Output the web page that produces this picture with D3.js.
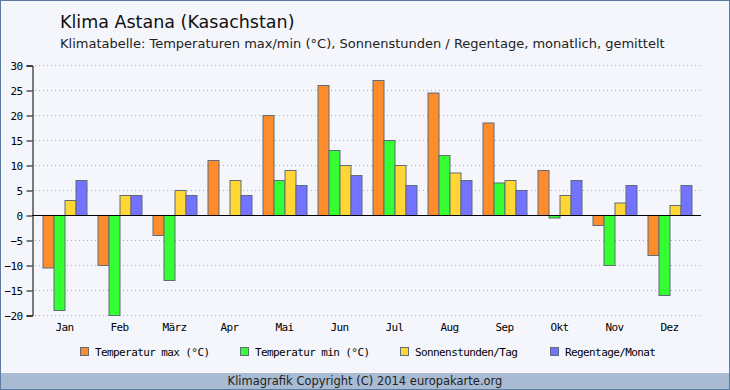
<!DOCTYPE html>
<html>
<head>
<meta charset="utf-8">
<script src="https://cdn.jsdelivr.net/npm/d3@7"></script>
<style>
  body { margin: 0; background: #fff; }
  svg { display: block; }
</style>
</head>
<body>
<svg width="730" height="390"></svg>
<script>
// Klimadaten Astana
const months = ['Jan', 'Feb', 'März', 'Apr', 'Mai', 'Jun', 'Jul', 'Aug', 'Sep', 'Okt', 'Nov', 'Dez'];
const tempMax = [-10.5, -10, -4, 11, 20, 26, 27, 24.5, 18.5, 9, -2, -8];
const tempMin = [-19, -20, -13, 0, 7, 13, 15, 12, 6.5, -0.5, -10, -16];
const sonne = [3, 4, 5, 7, 9, 10, 10, 8.5, 7, 4, 2.5, 2];
const regen = [7, 4, 4, 4, 6, 8, 6, 7, 5, 7, 6, 6];
const seriesNames = ['Temperatur max (°C)', 'Temperatur min (°C)', 'Sonnenstunden/Tag', 'Regentage/Monat'];
const colors = ['#ff8c2b', '#33ff33', '#ffd633', '#7373ff'];
const yTicks = [-20, -15, -10, -5, 0, 5, 10, 15, 20, 25, 30];

const allSeries = [tempMax, tempMin, sonne, regen];

const svg = d3.select('svg');

// Hintergrund + Rahmen
svg.append('rect').attr('x', 0.5).attr('y', 0.5).attr('width', 729).attr('height', 389)
  .attr('fill', '#f4f6fb').attr('stroke', '#5b7ba1');
svg.append('rect').attr('x', 1).attr('y', 373).attr('width', 728).attr('height', 16)
  .attr('fill', '#a9bbd3');

svg.append('text').attr('x', 60).attr('y', 28)
  .style('font-family', 'DejaVu Sans').style('font-size', '17.5px').attr('fill', '#111')
  .text('Klima Astana (Kasachstan)');
svg.append('text').attr('x', 60).attr('y', 48)
  .style('font-family', 'DejaVu Sans').style('font-size', '13px').attr('fill', '#222')
  .text('Klimatabelle: Temperaturen max/min (°C), Sonnenstunden / Regentage, monatlich, gemittelt');

svg.append('text').attr('x', 365).attr('y', 384.5).attr('text-anchor', 'middle')
  .style('font-family', 'DejaVu Sans').style('font-size', '11.5px').attr('fill', '#222')
  .text('Klimagrafik Copyright (C) 2014 europakarte.org');

const left = 32, right = 701;
const monoFont = sel => sel.style('font-family', 'DejaVu Sans Mono').style('font-size', '11px')
  .style('letter-spacing', '-0.6px').attr('fill', '#000');

var xScale = d3.scaleBand()
  .domain(months)
  .range([37, 697])
  .paddingInner(0.2)
  .paddingOuter(0.1);

var xInner = d3.scaleBand()
  .domain(d3.range(4))
  .range([0, xScale.bandwidth()]);

const yScale = d3.scaleLinear()
  .domain([-20, 30])
  .range([315, 65]);

// Gitterlinien (gepunktet)
svg.append('g').selectAll('line')
  .data(yTicks)
  .enter().append('line')
  .attr('x1', left + 3).attr('x2', right)
  .attr('y1', d => yScale(d) + 0.5).attr('y2', d => yScale(d) + 0.5)
  .attr('stroke', '#9fb2c9').attr('stroke-dasharray', '1,3');

// Y-Achse
const yAxis = d3.axisLeft(yScale).tickValues(yTicks).tickSize(6).tickPadding(4);
const yg = svg.append('g').attr('transform', 'translate(' + (left + 0.5) + ',0.5)').call(yAxis);
yg.select('.domain').attr('stroke', '#000');
yg.selectAll('.tick line').attr('stroke', '#000');
yg.selectAll('text').call(monoFont);

// Balken
const groups = svg.append('g').selectAll('g')
  .data(months)
  .enter().append('g')
  .attr('transform', d => 'translate(' + xScale(d) + ',0)');

groups.selectAll('rect')
  .data((m, i) => allSeries.map((s, k) => ({ k: k, value: s[i] })))
  .enter().append('rect')
  .attr('x', d => xInner(d.k) + 0.5)
  .attr('width', xInner.bandwidth())
  .attr('y', d => Math.min(yScale(d.value), yScale(0)) + 0.5)
  .attr('height', d => Math.abs(yScale(d.value) - yScale(0)))
  .attr('fill', d => colors[d.k])
  .attr('stroke', '#5e6b7a')
  .attr('stroke-width', d => d.value === 0 ? 0 : 1);

// Null-Linie
svg.append('line')
  .attr('x1', left).attr('x2', right)
  .attr('y1', yScale(0) + 0.5).attr('y2', yScale(0) + 0.5)
  .attr('stroke', '#000');

// Apr min = 0 -> dünner grüner strich
groups.filter((m, i) => tempMin[i] === 0).append('line')
  .attr('x1', xInner(1) + 1).attr('x2', xInner(1) + xInner.bandwidth())
  .attr('y1', yScale(0) + 0.5).attr('y2', yScale(0) + 0.5)
  .attr('stroke', colors[1]);

// Monatsnamen
svg.append('g').selectAll('text')
  .data(months)
  .enter().append('text')
  .attr('x', d => xScale(d) + xScale.bandwidth() / 2)
  .attr('y', 331)
  .attr('text-anchor', 'middle')
  .call(monoFont)
  .text(d => d);

// Legende
const legendX = [80, 240, 400, 550];
const legend = svg.append('g').selectAll('g')
  .data(seriesNames)
  .enter().append('g')
  .attr('transform', (d, i) => 'translate(' + legendX[i] + ',347)');
legend.append('rect').attr('x', 0.5).attr('y', 0.5).attr('width', 8).attr('height', 8)
  .attr('fill', (d, i) => colors[i]).attr('stroke', '#5e6b7a');
legend.append('text').attr('x', 15).attr('y', 9)
  .call(monoFont)
  .text(d => d);
</script>
</body>
</html>
